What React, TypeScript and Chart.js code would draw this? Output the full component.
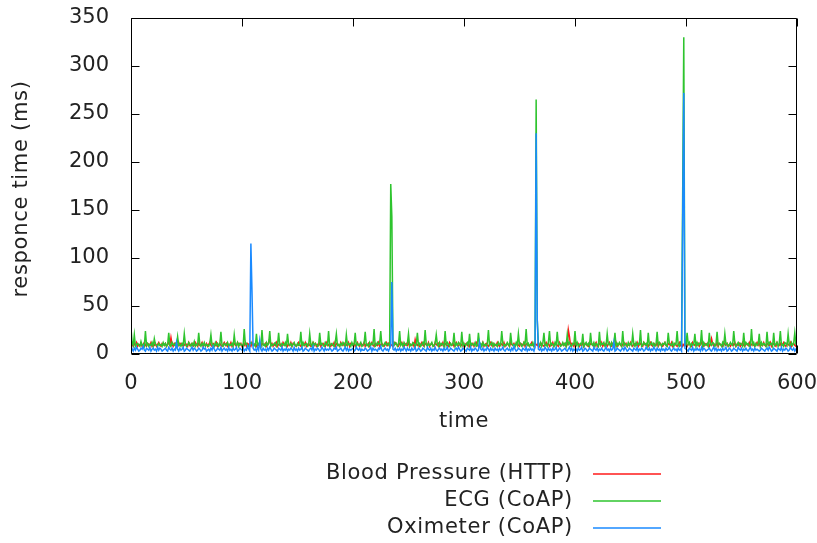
import React, { useEffect, useRef } from 'react';
import { Chart, registerables } from 'chart.js';

Chart.register(...registerables);

// Sampling interval of the response-time log (seconds)
const STEP = 1;

const SERIES_NAMES = ['Blood Pressure (HTTP)', 'ECG (CoAP)', 'Oximeter (CoAP)'];

// one row = 30 s of samples
const BLOOD_PRESSURE = [
  15, 10, 8, 11, 9, 12, 8, 10, 9, 11, 8, 10, 12, 9, 8, 11, 10, 9, 12, 8, 10, 9, 11, 8, 10, 12, 9, 8, 11, 10,
  9, 11, 8, 10, 12, 9, 17, 10, 8, 11, 9, 10, 8, 12, 9, 11, 10, 8, 9, 11, 10, 8, 12, 9, 10, 11, 8, 9, 12, 10,
  8, 11, 9, 10, 12, 8, 10, 9, 11, 8, 10, 12, 9, 8, 11, 10, 9, 12, 8, 10, 11, 9, 8, 10, 12, 9, 11, 8, 10, 9,
  12, 8, 10, 11, 9, 8, 12, 10, 9, 11, 8, 10, 9, 12, 8, 11, 10, 9, 8, 12, 10, 9, 11, 8, 10, 9, 12, 8, 11, 10,
  9, 11, 8, 10, 12, 16, 9, 11, 8, 10, 9, 12, 8, 10, 11, 9, 8, 12, 10, 9, 11, 8, 10, 9, 12, 8, 11, 10, 9, 8,
  10, 12, 9, 8, 11, 10, 9, 12, 8, 10, 11, 9, 8, 10, 12, 9, 11, 8, 10, 9, 12, 8, 10, 11, 9, 8, 12, 10, 9, 11,
  8, 10, 9, 12, 8, 11, 10, 9, 8, 12, 10, 9, 11, 8, 10, 9, 12, 8, 11, 10, 9, 11, 8, 10, 12, 9, 8, 11, 10, 9,
  12, 8, 10, 9, 11, 8, 10, 12, 9, 8, 11, 10, 9, 12, 8, 10, 11, 9, 8, 10, 12, 9, 11, 8, 10, 9, 8, 12, 10, 11,
  9, 8, 11, 10, 12, 9, 8, 10, 11, 9, 12, 8, 10, 9, 11, 8, 15, 10, 9, 11, 8, 10, 12, 9, 8, 11, 10, 9, 12, 8,
  10, 11, 9, 8, 12, 10, 9, 11, 8, 10, 9, 12, 8, 11, 10, 9, 8, 12, 10, 9, 11, 8, 10, 12, 9, 8, 11, 10, 9, 12,
  8, 10, 11, 9, 12, 8, 10, 9, 11, 8, 10, 12, 9, 8, 11, 10, 9, 12, 8, 10, 11, 9, 8, 10, 12, 9, 11, 8, 10, 9,
  12, 9, 8, 11, 10, 9, 12, 8, 10, 11, 9, 8, 12, 10, 9, 11, 8, 10, 12, 9, 8, 11, 10, 9, 12, 8, 10, 11, 9, 8,
  10, 12, 9, 8, 11, 10, 9, 12, 8, 10, 11, 9, 8, 10, 12, 9, 11, 8, 10, 9, 12, 8, 10, 11, 9, 8, 12, 10, 9, 11,
  9, 11, 8, 10, 25, 18, 9, 11, 10, 8, 12, 9, 10, 11, 8, 10, 9, 12, 8, 11, 10, 9, 8, 12, 10, 11, 9, 8, 10, 12,
  8, 10, 11, 9, 12, 8, 10, 9, 11, 8, 10, 12, 9, 8, 11, 10, 9, 12, 8, 10, 11, 9, 8, 10, 12, 9, 11, 8, 10, 9,
  12, 9, 8, 11, 10, 9, 12, 8, 10, 11, 9, 8, 12, 10, 9, 11, 8, 10, 12, 9, 8, 11, 10, 9, 12, 8, 10, 11, 9, 8,
  10, 12, 9, 8, 11, 10, 9, 12, 8, 10, 11, 9, 8, 10, 12, 9, 11, 8, 10, 9, 12, 8, 10, 11, 9, 8, 12, 10, 9, 11,
  9, 11, 8, 10, 12, 9, 8, 11, 10, 9, 12, 8, 10, 16, 11, 8, 10, 9, 12, 8, 11, 10, 9, 8, 12, 10, 9, 11, 8, 10,
  8, 10, 11, 9, 12, 8, 10, 9, 11, 8, 10, 12, 9, 8, 11, 10, 9, 12, 8, 10, 11, 9, 8, 10, 12, 9, 11, 8, 10, 9,
  12, 9, 8, 11, 10, 9, 12, 8, 10, 11, 9, 8, 12, 10, 9, 11, 8, 10, 12, 9, 8, 11, 10, 9, 12, 8, 10, 11, 9, 8,
  10,
];

const ECG = [
  27, 12, 9, 20, 8, 10, 11, 9, 8, 13, 9, 10, 8, 24, 9, 11, 8, 10, 9, 12, 8, 16, 10, 9, 8, 11, 9, 10, 8, 12,
  9, 11, 8, 10, 22, 9, 8, 12, 10, 9, 11, 8, 18, 9, 10, 8, 11, 9, 21, 10, 8, 9, 12, 10, 8, 11, 9, 13, 8, 10,
  9, 22, 10, 8, 11, 9, 12, 8, 10, 9, 8, 11, 20, 9, 10, 8, 12, 9, 11, 8, 10, 23, 9, 8, 11, 10, 9, 12, 8, 10,
  9, 11, 8, 20, 10, 9, 12, 8, 11, 10, 9, 8, 26, 10, 11, 9, 8, 10, 12, 11, 9, 10, 8, 21, 9, 11, 10, 8, 25, 9,
  10, 8, 12, 9, 11, 24, 8, 10, 9, 11, 12, 8, 10, 22, 9, 8, 11, 10, 9, 12, 8, 21, 10, 9, 11, 8, 10, 12, 9, 8,
  11, 9, 10, 23, 8, 12, 9, 10, 11, 8, 9, 21, 10, 8, 12, 9, 11, 10, 8, 9, 22, 10, 11, 9, 8, 12, 10, 9, 24, 8,
  10, 11, 9, 8, 12, 21, 9, 10, 8, 11, 9, 12, 10, 8, 20, 9, 11, 10, 8, 12, 9, 10, 22, 8, 11, 9, 10, 12, 8, 9,
  11, 23, 9, 10, 8, 12, 9, 11, 10, 26, 8, 9, 12, 10, 11, 24, 9, 8, 10, 12, 9, 11, 10, 8, 177, 143, 10, 9, 12, 11,
  8, 10, 24, 9, 11, 8, 12, 10, 9, 11, 21, 8, 10, 9, 12, 11, 8, 10, 22, 9, 11, 8, 10, 12, 9, 25, 10, 8, 11, 9,
  10, 12, 8, 9, 11, 20, 10, 8, 12, 9, 11, 10, 8, 24, 9, 12, 10, 8, 11, 9, 10, 22, 8, 11, 9, 12, 10, 8, 23, 9,
  11, 8, 10, 12, 9, 21, 8, 11, 10, 9, 12, 8, 9, 22, 10, 11, 8, 12, 9, 10, 8, 11, 25, 9, 10, 12, 8, 11, 9, 10,
  8, 12, 10, 9, 24, 11, 8, 10, 9, 12, 10, 8, 22, 11, 9, 10, 8, 12, 9, 21, 10, 11, 8, 9, 12, 10, 26, 9, 11, 8,
  10, 9, 12, 8, 11, 265, 35, 10, 9, 12, 8, 11, 22, 9, 10, 8, 12, 24, 9, 11, 10, 8, 12, 9, 23, 10, 11, 8, 9, 12,
  9, 11, 8, 20, 10, 12, 9, 8, 11, 10, 24, 9, 12, 8, 10, 11, 9, 21, 8, 10, 12, 9, 11, 8, 22, 10, 9, 12, 8, 11,
  10, 8, 23, 9, 11, 10, 12, 8, 9, 21, 10, 11, 8, 12, 9, 10, 22, 8, 11, 9, 12, 10, 8, 24, 9, 11, 10, 8, 12, 9,
  11, 9, 21, 10, 8, 12, 9, 11, 10, 25, 8, 9, 12, 10, 11, 8, 22, 9, 10, 12, 9, 11, 8, 10, 23, 9, 12, 10, 8, 11,
  10, 12, 9, 8, 22, 11, 10, 9, 12, 8, 11, 10, 24, 9, 8, 12, 10, 167, 330, 11, 9, 22, 10, 12, 8, 11, 9, 10, 21, 8,
  12, 9, 11, 10, 25, 8, 12, 9, 10, 11, 8, 22, 10, 9, 12, 11, 8, 10, 23, 9, 11, 10, 8, 12, 9, 21, 10, 11, 8, 9,
  12, 10, 9, 24, 11, 8, 10, 12, 9, 11, 10, 8, 22, 9, 12, 10, 11, 8, 9, 26, 10, 12, 8, 11, 9, 10, 21, 8, 12, 9,
  11, 10, 8, 23, 9, 12, 10, 11, 8, 22, 9, 10, 12, 8, 11, 24, 9, 10, 8, 12, 11, 9, 21, 10, 8, 12, 9, 11, 22, 10,
  9,
];

const OXIMETER = [
  9, 5, 3, 6, 4, 7, 5, 3, 4, 6, 5, 8, 4, 3, 6, 5, 4, 7, 3, 5, 6, 4, 5, 3, 7, 4, 6, 5, 3, 4,
  5, 6, 4, 3, 7, 5, 4, 6, 3, 5, 4, 12, 5, 3, 6, 4, 5, 7, 3, 4, 6, 5, 4, 3, 5, 7, 4, 6, 5, 3,
  4, 6, 5, 3, 4, 7, 5, 6, 3, 4, 5, 3, 6, 4, 8, 5, 3, 4, 6, 5, 4, 7, 3, 5, 6, 4, 5, 3, 7, 4,
  5, 3, 6, 4, 5, 7, 3, 4, 6, 5, 4, 6, 3, 5, 4, 8, 5, 3, 115, 65, 6, 4, 5, 3, 7, 4, 14, 5, 3, 6,
  4, 5, 3, 6, 4, 7, 5, 3, 4, 6, 5, 4, 3, 6, 5, 4, 7, 3, 5, 4, 6, 3, 5, 4, 6, 5, 3, 7, 4, 5,
  3, 6, 4, 5, 7, 3, 4, 6, 5, 4, 3, 5, 6, 4, 8, 3, 5, 4, 6, 5, 3, 4, 7, 5, 3, 6, 4, 5, 4, 6,
  5, 3, 4, 6, 5, 7, 3, 4, 5, 6, 4, 3, 5, 7, 4, 6, 3, 5, 4, 5, 6, 3, 4, 7, 5, 4, 6, 3, 5, 4,
  4, 6, 5, 3, 4, 5, 7, 3, 6, 4, 5, 4, 3, 6, 5, 8, 4, 3, 5, 6, 4, 5, 3, 6, 9, 75, 5, 4, 6, 3,
  5, 4, 6, 3, 5, 4, 7, 5, 3, 6, 4, 5, 3, 6, 4, 5, 7, 3, 4, 6, 5, 3, 4, 6, 5, 4, 3, 7, 5, 4,
  6, 3, 5, 4, 7, 4, 3, 5, 6, 4, 5, 3, 6, 4, 5, 7, 3, 4, 6, 5, 4, 3, 5, 6, 4, 7, 5, 3, 4, 6,
  5, 4, 3, 6, 5, 4, 7, 3, 5, 4, 6, 5, 3, 4, 12, 5, 4, 6, 3, 5, 4, 7, 5, 3, 6, 4, 5, 3, 6, 4,
  5, 3, 6, 4, 5, 7, 4, 3, 5, 6, 4, 5, 3, 6, 4, 8, 5, 3, 4, 6, 5, 4, 3, 6, 5, 4, 7, 3, 5, 4,
  6, 4, 5, 3, 7, 230, 36, 5, 4, 6, 3, 5, 4, 7, 5, 3, 6, 4, 5, 3, 6, 4, 5, 7, 3, 4, 6, 5, 3, 4,
  5, 6, 4, 3, 5, 7, 4, 6, 3, 5, 4, 5, 3, 6, 4, 5, 7, 3, 4, 6, 5, 3, 4, 6, 5, 4, 3, 7, 5, 4,
  6, 3, 5, 4, 6, 4, 3, 5, 7, 4, 5, 3, 6, 4, 5, 12, 3, 4, 6, 5, 4, 3, 5, 6, 4, 7, 5, 3, 4, 6,
  5, 4, 3, 6, 5, 4, 7, 3, 5, 4, 6, 5, 3, 4, 7, 5, 4, 6, 3, 5, 4, 7, 5, 3, 6, 4, 5, 3, 6, 4,
  5, 3, 6, 4, 5, 7, 4, 3, 5, 6, 4, 5, 3, 6, 4, 5, 3, 140, 272, 6, 5, 4, 3, 6, 5, 4, 7, 3, 5, 4,
  6, 4, 5, 3, 7, 4, 6, 5, 3, 4, 5, 6, 4, 3, 5, 7, 4, 6, 3, 5, 4, 5, 3, 6, 4, 5, 7, 3, 4, 6,
  5, 3, 4, 6, 5, 4, 3, 7, 5, 4, 6, 3, 5, 4, 6, 4, 3, 5, 7, 4, 5, 3, 6, 4, 5, 4, 3, 4, 6, 5,
  4, 3, 5, 6, 4, 7, 5, 3, 4, 6, 5, 4, 3, 6, 5, 4, 7, 3, 5, 4, 6, 5, 3, 4, 7, 5, 4, 6, 3, 5,
  4,
];

const X_TICKS = [0, 100, 200, 300, 400, 500, 600];
const Y_TICKS = [0, 50, 100, 150, 200, 250, 300, 350];

const COLORS = ['#ff1a1a', '#2ec42e', '#1a8aff'];
const FONT = 'DejaVu Sans';
const TEXT = '#222222';

const toPoints = (vals: number[]) => vals.map((v, i) => ({ x: i * STEP, y: v }));

// Plot border with inward tick marks on all four sides, plus titles and key
const framePlugin = {
  id: 'frame',
  afterDatasetsDraw(chart: any) {
    const { ctx, chartArea, scales } = chart;
    const { left, right, top, bottom } = chartArea;
    const L = Math.round(left) + 0.5;
    const R = Math.round(right) - 0.5;
    const T = Math.round(top) + 0.5;
    const B = Math.round(bottom) - 0.5;
    ctx.save();
    ctx.strokeStyle = '#000';
    ctx.lineWidth = 1;
    ctx.beginPath();
    ctx.rect(L, T, R - L, B - T);
    const tl = 8;
    X_TICKS.forEach((v) => {
      const px = Math.round(scales.x.getPixelForValue(v)) + 0.5;
      ctx.moveTo(px, B);
      ctx.lineTo(px, B - tl);
      ctx.moveTo(px, T);
      ctx.lineTo(px, T + tl);
    });
    Y_TICKS.forEach((v) => {
      const py = Math.round(scales.y.getPixelForValue(v)) + 0.5;
      ctx.moveTo(L, py);
      ctx.lineTo(L + tl, py);
      ctx.moveTo(R, py);
      ctx.lineTo(R - tl, py);
    });
    ctx.stroke();
    ctx.restore();
  },
  afterDraw(chart: any) {
    const { ctx, chartArea } = chart;
    ctx.save();
    ctx.fillStyle = TEXT;
    ctx.font = `21px "${FONT}"`;
    ctx.textBaseline = 'middle';
    (ctx as any).letterSpacing = '0.7px';

    // axis titles
    ctx.textAlign = 'center';
    ctx.fillText('time', (chartArea.left + chartArea.right) / 2, 422);
    ctx.save();
    ctx.translate(22, 189);
    ctx.rotate(-Math.PI / 2);
    ctx.fillText('responce time (ms)', 0, 0);
    ctx.restore();

    // key
    const rows = [474, 501, 528];
    SERIES_NAMES.forEach((name, i) => {
      ctx.textAlign = 'right';
      ctx.fillStyle = TEXT;
      ctx.fillText(name, 573, rows[i]);
      ctx.strokeStyle = COLORS[i];
      ctx.lineWidth = 1.5;
      ctx.beginPath();
      ctx.moveTo(593, rows[i]);
      ctx.lineTo(661, rows[i]);
      ctx.stroke();
    });
    ctx.restore();
  },
};

export default function App() {
  const canvasRef = useRef<HTMLCanvasElement | null>(null);

  useEffect(() => {
    document.body.style.margin = '0';
    const canvas = canvasRef.current;
    if (!canvas) return;

    const datasets = [BLOOD_PRESSURE, ECG, OXIMETER].map((vals, i) => ({
      label: SERIES_NAMES[i],
      data: toPoints(vals),
      borderColor: COLORS[i],
      backgroundColor: COLORS[i],
      borderWidth: 1.5,
      pointRadius: 0,
      tension: 0,
      fill: false,
      // later series are painted over earlier ones
      order: 3 - i,
    }));

    const chart = new Chart(canvas, {
      type: 'line',
      data: { datasets },
      options: {
        animation: false,
        responsive: false,
        maintainAspectRatio: false,
        events: [],
        layout: { padding: { top: 18, right: 20, left: 0, bottom: 149 } },
        plugins: {
          legend: { display: false },
          tooltip: { enabled: false },
        },
        scales: {
          x: {
            type: 'linear',
            min: 0,
            max: 600,
            afterFit: (s: any) => {
              s.height = 40;
              s.paddingLeft = 0;
              s.paddingRight = 0;
            },
            afterBuildTicks: (s: any) => { s.ticks = X_TICKS.map((v) => ({ value: v })); },
            grid: { display: false, drawTicks: false },
            border: { display: false },
            ticks: {
              color: TEXT,
              font: { family: FONT, size: 21 },
              padding: 17,
              maxRotation: 0,
            },
          },
          y: {
            type: 'linear',
            min: 0,
            max: 350,
            afterFit: (s: any) => {
              s.width = 131;
              s.paddingTop = 0;
              s.paddingBottom = 0;
            },
            afterBuildTicks: (s: any) => { s.ticks = Y_TICKS.map((v) => ({ value: v })); },
            grid: { display: false, drawTicks: false },
            border: { display: false },
            ticks: {
              color: TEXT,
              font: { family: FONT, size: 21 },
              padding: 22,
            },
          },
        },
      },
      plugins: [framePlugin],
    });

    return () => chart.destroy();
  }, []);

  return (
    <div style={{ position: 'absolute', left: 0, top: 0, width: 817, height: 543, background: '#fff' }}>
      <canvas ref={canvasRef} width={817} height={543} style={{ display: 'block', width: 817, height: 543 }} />
    </div>
  );
}
